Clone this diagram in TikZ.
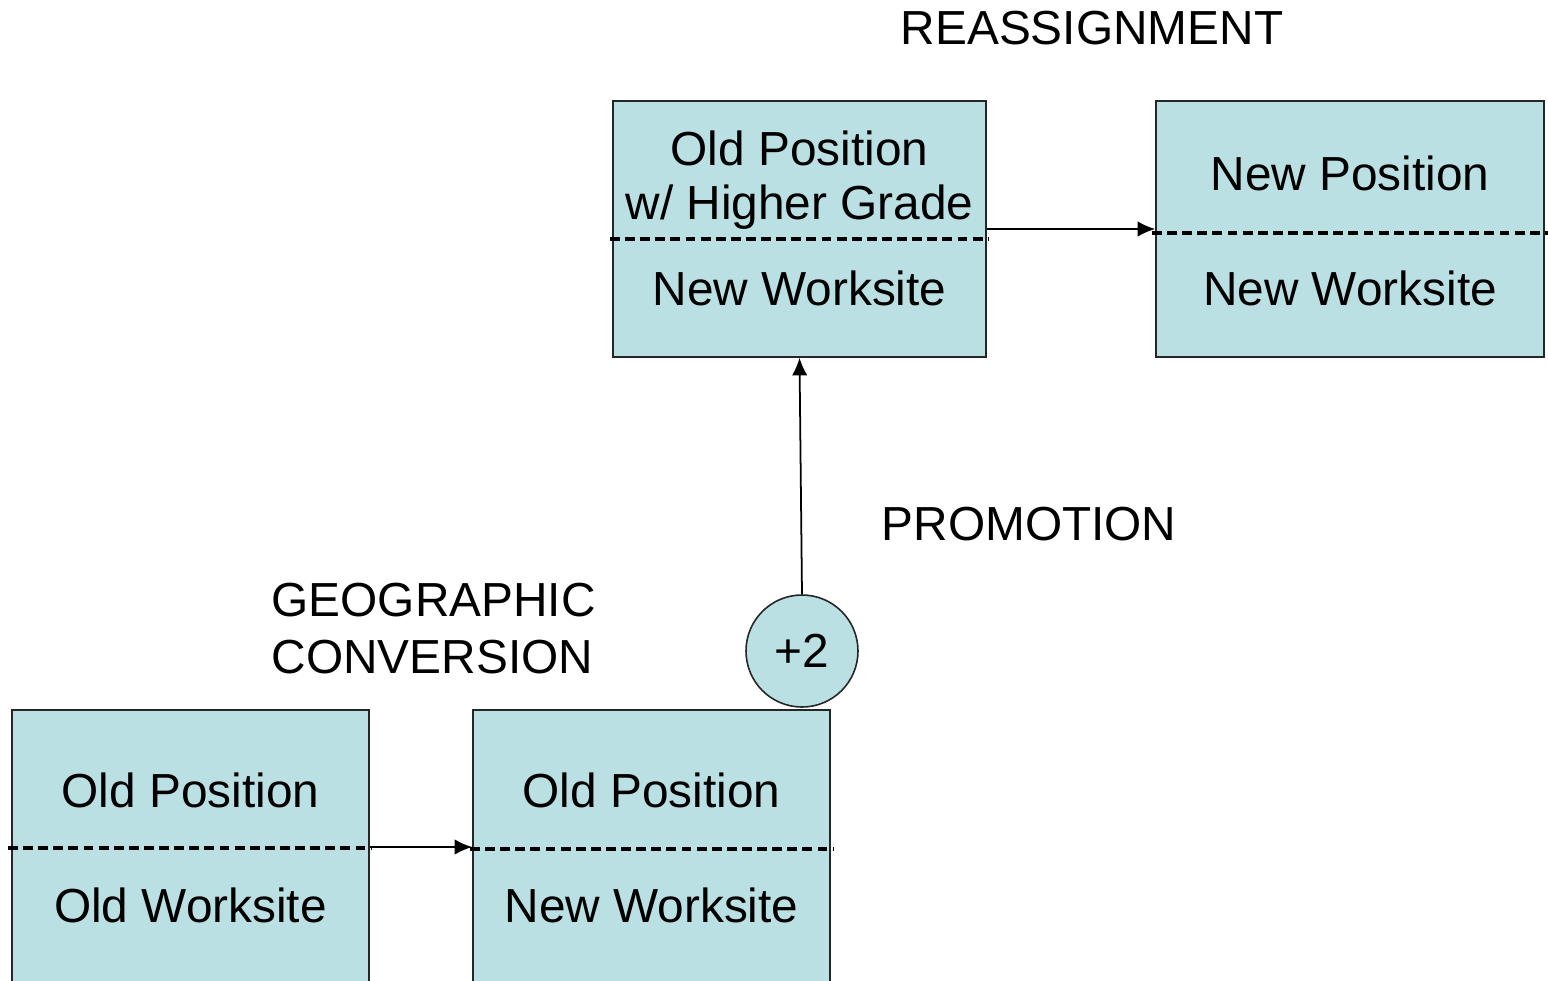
\documentclass[tikz,border=0pt]{standalone}
\usepackage{fontspec}
\setmainfont{Liberation Sans}
\usetikzlibrary{arrows.meta}

\definecolor{boxblue}{RGB}{187,224,227}

\tikzset{
    posbox/.style={draw=black!85, line width=0.45pt, fill=boxblue, inner sep=0pt},
    divider/.style={line width=1.1pt, dash pattern=on 2.8pt off 1.5pt},
    flow/.style={line width=0.5pt, -{Latex[length=5pt,width=4.4pt]}},
    txt/.style={font=\fontsize{13.6}{15.2}\selectfont, inner sep=0pt, align=center}
}

\begin{document}
\begin{tikzpicture}[x=0.1mm,y=-0.1mm]
    % fix the page to the reference size
    \useasboundingbox (0,0) rectangle (1548,980);
    \clip (0,0) rectangle (1548,980);

    % draw the four position boxes
    \node[posbox, minimum width=35.7mm, minimum height=27.4mm] (oldbox) at (190.5,847) {};
    \node[posbox, minimum width=35.7mm, minimum height=27.4mm] (geobox) at (651.5,847) {};
    \node[posbox, minimum width=37.3mm, minimum height=25.6mm] (gradebox) at (799.5,229) {};
    \node[posbox, minimum width=38.8mm, minimum height=25.6mm] (newbox) at (1350,229) {};

    % draw the grade step circle
    \node[posbox, circle, minimum size=11.2mm, txt] (step2) at (802,651) {+2};

    % draw the dashed split lines
    \draw[divider] (8,848) -- (372,848);
    \draw[divider] (470,849) -- (833,849);
    \draw[divider] (610,239) -- (988,239);
    \draw[divider] (1152,233) -- (1548,233);

    % fill the text in the boxes
    \node[txt] (oldpos) at (190.5,790) {Old Position};
    \node[txt] (oldsite) at (190.5,905) {Old Worksite};
    \node[txt] (geopos) at (651.5,790) {Old Position};
    \node[txt] (geosite) at (651.5,905) {New Worksite};
    \node[txt] (gradepos) at (799.5,180) {Old Position\\w/ Higher Grade};
    \node[txt] (gradesite) at (799.5,288) {New Worksite};
    \node[txt] (newpos) at (1350,173) {New Position};
    \node[txt] (newsite) at (1350,288) {New Worksite};

    % draw the action labels
    \node[txt] (reassign) at (1092,28) {REASSIGNMENT};
    \node[txt] (promo) at (1029,524) {PROMOTION};
    \node[txt, align=left, anchor=west, font=\fontsize{13.6}{16.2}\selectfont] (geoconv) at (271,629) {GEOGRAPHIC\\CONVERSION};

    % draw arrows between boxes
    \draw[flow] (oldbox.east) -- (geobox.west);
    \draw[flow] (step2.north) -- (gradebox.south);
    \draw[flow] (gradebox.east) -- (newbox.west);
\end{tikzpicture}
\end{document}
